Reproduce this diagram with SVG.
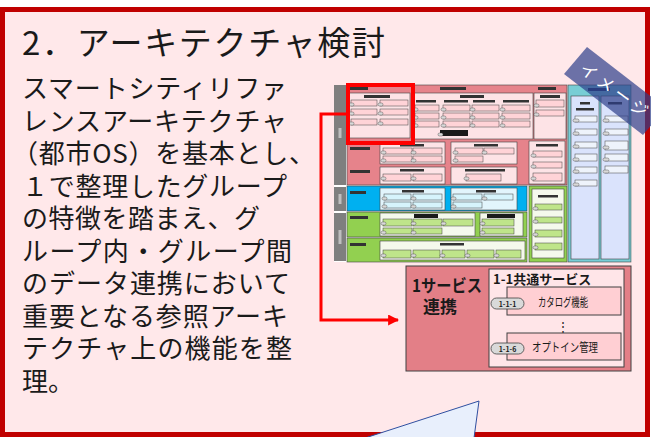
<svg xmlns="http://www.w3.org/2000/svg" width="651" height="437" viewBox="0 0 651 437">
<defs>
<style>
.cjk{font-family:"Noto Sans CJK JP","Noto Sans",sans-serif}
.body{font-size:26px;fill:#1a1a1a}
.bx{stroke:#404040;stroke-width:0.6}
.lp{fill:#fde3e6}
.it{fill:#ffd3d7;stroke:#404040;stroke-width:0.5}
.itc{fill:#d6f4fc;stroke:#404040;stroke-width:0.5}
.itg{fill:#bfe58a;stroke:#404040;stroke-width:0.5}
.itb{fill:#eef3fb;stroke:#404040;stroke-width:0.5}
.pl{fill:#d9d9d9;stroke:#404040;stroke-width:0.4}
.sm{fill:#333}
</style>
<marker id="arr" viewBox="0 0 10 10" refX="9" refY="5" markerWidth="11" markerHeight="11" markerUnits="userSpaceOnUse" orient="auto">
<path d="M0,0 L10,5 L0,10 z" fill="#ff0000"/>
</marker>
</defs>

<!-- background frame -->
<rect x="0" y="0" width="651" height="437" fill="#ffffff"/>
<rect id="frame" x="2.5" y="9.5" width="645" height="425" fill="#ffe8ea" stroke="#c00000" stroke-width="5"/>

<!-- title -->
<g id="title">
<text class="cjk" x="22" y="55" font-size="33" fill="#1a1a1a" textLength="363" lengthAdjust="spacing">2．アーキテクチャ検討</text>
</g>

<!-- body text -->
<g id="body-text" class="cjk body">
<text x="22" y="98" textLength="265" lengthAdjust="spacing">スマートシティリファ</text>
<text x="22" y="130.5" textLength="265" lengthAdjust="spacing">レンスアーキテクチャ</text>
<text x="12" y="163" textLength="303" lengthAdjust="spacing">（都市OS）を基本とし、</text>
<text x="22" y="195.5" textLength="265" lengthAdjust="spacing">１で整理したグループ</text>
<text x="22" y="228" textLength="238" lengthAdjust="spacing">の特徴を踏まえ、グ</text>
<text x="22" y="260.5" textLength="270" lengthAdjust="spacing">ループ内・グループ間</text>
<text x="22" y="293" textLength="268" lengthAdjust="spacing">のデータ連携において</text>
<text x="22" y="325.5" textLength="266" lengthAdjust="spacing">重要となる参照アーキ</text>
<text x="22" y="358" textLength="270" lengthAdjust="spacing">テクチャ上の機能を整</text>
<text x="22" y="390.5">理。</text>
</g>

<!-- architecture thumbnail -->
<g id="architecture-thumbnail">
<rect x="334" y="85" width="298" height="177" fill="#ffffff"/>
<rect x="334" y="85" width="12" height="100" fill="#7f7f7f"/>
<rect x="334" y="187" width="12" height="24" fill="#7f7f7f"/>
<rect x="334" y="213" width="12" height="48" fill="#7f7f7f"/>
<rect x="338.5" y="128" width="3" height="10" fill="#bfbfbf"/>
<rect x="338.5" y="194" width="3" height="10" fill="#bfbfbf"/>
<rect x="338.5" y="230" width="3" height="14" fill="#bfbfbf"/>

<!-- pink service section -->
<rect x="347" y="85" width="220" height="100" fill="#e6838b" class="bx"/>
<rect x="350" y="87" width="18" height="3" class="sm"/>
<rect x="440" y="87" width="26" height="3" class="sm"/>
<rect x="538" y="87" width="18" height="3" class="sm"/>
<!-- 1-1 -->
<rect x="349" y="93" width="61" height="45" class="lp bx"/>
<rect x="364" y="95" width="26" height="3" class="sm"/>
<rect x="351" y="100" width="26" height="6" class="it"/><rect x="349" y="103" width="5" height="3" rx="1.5" class="pl"/>
<rect x="380" y="100" width="28" height="6" class="it"/><rect x="378" y="103" width="5" height="3" rx="1.5" class="pl"/>
<rect x="351" y="109" width="26" height="6" class="it"/><rect x="349" y="112" width="5" height="3" rx="1.5" class="pl"/>
<rect x="380" y="109" width="28" height="6" class="it"/><rect x="378" y="112" width="5" height="3" rx="1.5" class="pl"/>
<rect x="351" y="119" width="26" height="6" class="it"/><rect x="349" y="122" width="5" height="3" rx="1.5" class="pl"/>
<rect x="380" y="119" width="28" height="6" class="it"/><rect x="378" y="122" width="5" height="3" rx="1.5" class="pl"/>
<!-- 1-2 -->
<rect x="412" y="93" width="121" height="46" class="lp bx"/>
<rect x="460" y="95" width="24" height="3" class="sm"/>
<rect x="416" y="100" width="20" height="2.5" class="sm"/>
<rect x="444" y="100" width="24" height="2.5" class="sm"/>
<rect x="473" y="100" width="22" height="2.5" class="sm"/>
<rect x="503" y="100" width="26" height="2.5" class="sm"/>
<rect x="415" y="105" width="24" height="6" class="it"/><rect x="413" y="108" width="5" height="3" rx="1.5" class="pl"/>
<rect x="443" y="105" width="27" height="6" class="it"/><rect x="441" y="108" width="5" height="3" rx="1.5" class="pl"/>
<rect x="472" y="105" width="27" height="6" class="it"/><rect x="470" y="108" width="5" height="3" rx="1.5" class="pl"/>
<rect x="502" y="105" width="28" height="6" class="it"/><rect x="500" y="108" width="5" height="3" rx="1.5" class="pl"/>
<rect x="415" y="113" width="24" height="6" class="it"/><rect x="413" y="116" width="5" height="3" rx="1.5" class="pl"/>
<rect x="443" y="113" width="27" height="6" class="it"/><rect x="441" y="116" width="5" height="3" rx="1.5" class="pl"/>
<rect x="472" y="113" width="27" height="6" class="it"/><rect x="470" y="116" width="5" height="3" rx="1.5" class="pl"/>
<rect x="502" y="113" width="28" height="6" class="it"/><rect x="500" y="116" width="5" height="3" rx="1.5" class="pl"/>
<rect x="415" y="121" width="24" height="6" class="it"/><rect x="413" y="124" width="5" height="3" rx="1.5" class="pl"/>
<rect x="443" y="121" width="27" height="6" class="it"/><rect x="441" y="124" width="5" height="3" rx="1.5" class="pl"/>
<rect x="472" y="121" width="27" height="6" class="it"/><rect x="470" y="124" width="5" height="3" rx="1.5" class="pl"/>
<rect x="502" y="121" width="28" height="6" class="it"/><rect x="500" y="124" width="5" height="3" rx="1.5" class="pl"/>
<rect x="440" y="130" width="28" height="6" fill="#1a1a1a"/><rect x="438" y="133" width="5" height="3" rx="1.5" class="pl"/>
<!-- 1-3 -->
<rect x="534" y="93" width="32" height="46" class="lp bx"/>
<rect x="540" y="95" width="20" height="3" class="sm"/>
<rect x="536" y="100" width="28" height="7" class="it"/><rect x="534" y="104" width="5" height="3" rx="1.5" class="pl"/>
<rect x="536" y="110" width="28" height="6" class="it"/><rect x="534" y="113" width="5" height="3" rx="1.5" class="pl"/>
<!-- row 2 -->
<rect x="350" y="147" width="20" height="3" class="sm"/>
<rect x="380" y="142" width="65" height="22" class="lp bx"/>
<rect x="400" y="144" width="24" height="2.5" class="sm"/>
<rect x="383" y="148" width="29" height="6" class="it"/><rect x="381" y="151" width="5" height="3" rx="1.5" class="pl"/>
<rect x="413" y="148" width="29" height="6" class="it"/><rect x="411" y="151" width="5" height="3" rx="1.5" class="pl"/>
<rect x="383" y="156" width="29" height="6" class="it"/><rect x="381" y="159" width="5" height="3" rx="1.5" class="pl"/>
<rect x="413" y="156" width="29" height="6" class="it"/><rect x="411" y="159" width="5" height="3" rx="1.5" class="pl"/>
<rect x="451" y="142" width="66" height="22" class="lp bx"/>
<rect x="474" y="144" width="24" height="2.5" class="sm"/>
<rect x="455" y="148" width="28" height="6" class="it"/><rect x="453" y="151" width="5" height="3" rx="1.5" class="pl"/>
<rect x="484" y="148" width="30" height="6" class="it"/><rect x="482" y="151" width="5" height="3" rx="1.5" class="pl"/>
<rect x="455" y="156" width="28" height="6" class="it"/><rect x="453" y="159" width="5" height="3" rx="1.5" class="pl"/>
<rect x="529" y="141" width="36" height="43" class="lp bx"/>
<rect x="536" y="144" width="22" height="2.5" class="sm"/>
<rect x="533" y="151" width="29" height="6" class="it"/><rect x="531" y="154" width="5" height="3" rx="1.5" class="pl"/>
<rect x="533" y="162" width="29" height="6" class="it"/><rect x="531" y="165" width="5" height="3" rx="1.5" class="pl"/>
<rect x="533" y="173" width="29" height="8" class="it"/><rect x="531" y="177" width="5" height="3" rx="1.5" class="pl"/>
<!-- row 3 -->
<rect x="350" y="170" width="20" height="3" class="sm"/>
<rect x="380" y="167" width="65" height="17" class="lp bx"/>
<rect x="400" y="169" width="24" height="2.5" class="sm"/>
<rect x="383" y="174" width="28" height="7" class="it"/><rect x="381" y="177" width="5" height="3" rx="1.5" class="pl"/>
<rect x="413" y="174" width="29" height="7" class="it"/><rect x="411" y="177" width="5" height="3" rx="1.5" class="pl"/>
<rect x="451" y="167" width="66" height="17" class="lp bx"/>
<rect x="465" y="169" width="40" height="2.5" class="sm"/>
<rect x="466" y="174" width="35" height="7" class="it"/><rect x="464" y="177" width="5" height="3" rx="1.5" class="pl"/>

<!-- blue row -->
<rect x="347" y="186" width="180" height="25" fill="#00b0f0" class="bx"/>
<rect x="350" y="191" width="16" height="3" class="sm"/>
<rect x="380" y="188" width="65" height="22" fill="#e2f5fc" class="bx"/>
<rect x="402" y="190" width="22" height="2.5" class="sm"/>
<rect x="384" y="194" width="27" height="6" class="itc"/><rect x="382" y="197" width="5" height="3" rx="1.5" class="pl"/>
<rect x="413" y="194" width="29" height="6" class="itc"/><rect x="411" y="197" width="5" height="3" rx="1.5" class="pl"/>
<rect x="384" y="202" width="27" height="6" class="itc"/><rect x="382" y="205" width="5" height="3" rx="1.5" class="pl"/>
<rect x="413" y="202" width="29" height="6" class="itc"/><rect x="411" y="205" width="5" height="3" rx="1.5" class="pl"/>
<rect x="451" y="188" width="66" height="22" fill="#e2f5fc" class="bx"/>
<rect x="476" y="190" width="20" height="2.5" class="sm"/>
<rect x="453" y="194" width="29" height="6" class="itc"/><rect x="451" y="197" width="5" height="3" rx="1.5" class="pl"/>
<rect x="484" y="194" width="29" height="6" class="itc"/><rect x="482" y="197" width="5" height="3" rx="1.5" class="pl"/>
<rect x="453" y="202" width="29" height="6" class="itc"/><rect x="451" y="205" width="5" height="3" rx="1.5" class="pl"/>

<!-- green rows -->
<rect x="347" y="212" width="180" height="25" fill="#92d050" class="bx"/>
<rect x="350" y="216" width="18" height="3" class="sm"/>
<rect x="380" y="213" width="95" height="23" fill="#f4f9ec" class="bx"/>
<rect x="414" y="214" width="24" height="4" fill="#1a1a1a"/>
<rect x="383" y="219" width="29" height="7" class="itg"/><rect x="381" y="222" width="5" height="3" rx="1.5" class="pl"/>
<rect x="413" y="219" width="29" height="7" class="itg"/><rect x="411" y="222" width="5" height="3" rx="1.5" class="pl"/>
<rect x="443" y="219" width="30" height="7" class="itg"/><rect x="441" y="222" width="5" height="3" rx="1.5" class="pl"/>
<rect x="383" y="228" width="29" height="6" class="itg"/><rect x="381" y="231" width="5" height="3" rx="1.5" class="pl"/>
<rect x="413" y="228" width="29" height="6" class="itg"/><rect x="411" y="231" width="5" height="3" rx="1.5" class="pl"/>
<rect x="480" y="213" width="43" height="23" fill="#f4f9ec" class="bx"/>
<rect x="487" y="214" width="28" height="4" fill="#1a1a1a"/>
<rect x="482" y="219" width="32" height="7" class="itg"/><rect x="480" y="222" width="5" height="3" rx="1.5" class="pl"/>
<rect x="482" y="228" width="32" height="6" class="itg"/><rect x="480" y="231" width="5" height="3" rx="1.5" class="pl"/>
<rect x="347" y="238" width="180" height="24" fill="#92d050" class="bx"/>
<rect x="350" y="243" width="16" height="3" class="sm"/>
<rect x="380" y="241" width="145" height="19" fill="#f5f9ec" class="bx"/>
<rect x="440" y="243" width="24" height="2.5" class="sm"/>
<rect x="383" y="250" width="28" height="8" class="itg"/><rect x="381" y="254" width="5" height="3" rx="1.5" class="pl"/>
<rect x="413" y="250" width="27" height="8" class="itg"/><rect x="411" y="254" width="5" height="3" rx="1.5" class="pl"/>
<rect x="442" y="250" width="23" height="8" class="itg"/><rect x="440" y="254" width="5" height="3" rx="1.5" class="pl"/>
<rect x="467" y="250" width="27" height="8" class="itg"/><rect x="465" y="254" width="5" height="3" rx="1.5" class="pl"/>
<rect x="496" y="250" width="25" height="8" class="itg"/><rect x="494" y="254" width="5" height="3" rx="1.5" class="pl"/>
<!-- right green column -->
<rect x="529" y="186" width="38" height="76" fill="#92d050" class="bx"/>
<rect x="532" y="189" width="32" height="69" fill="#f5f9ec" class="bx"/>
<rect x="538" y="195" width="20" height="2.5" class="sm"/>
<rect x="535" y="204" width="27" height="6" class="itg"/><rect x="533" y="207" width="5" height="3" rx="1.5" class="pl"/>
<rect x="535" y="217" width="27" height="6" class="itg"/><rect x="533" y="220" width="5" height="3" rx="1.5" class="pl"/>
<rect x="535" y="230" width="27" height="7" class="itg"/><rect x="533" y="233" width="5" height="3" rx="1.5" class="pl"/>
<rect x="535" y="243" width="27" height="7" class="itg"/><rect x="533" y="246" width="5" height="3" rx="1.5" class="pl"/>

<!-- right blue region -->
<rect x="568" y="85" width="63" height="177" fill="#78cdd5" class="bx"/>
<rect x="588" y="88" width="22" height="3" fill="#1f3a6a"/>
<rect x="571" y="96" width="28" height="163" fill="#dae3fc" class="bx"/>
<rect x="601" y="96" width="28" height="163" fill="#dae3fc" class="bx"/>
<rect x="580" y="102" width="10" height="2.5" class="sm"/>
<rect x="576" y="108" width="18" height="2.5" class="sm"/>
<rect x="608" y="102" width="14" height="2.5" class="sm"/>
<rect x="575" y="116" width="22" height="6" class="itb"/><rect x="573" y="119" width="6" height="3" rx="1.5" class="pl"/>
<rect x="575" y="129" width="22" height="6" class="itb"/><rect x="573" y="132" width="6" height="3" rx="1.5" class="pl"/>
<rect x="575" y="142" width="22" height="6" class="itb"/><rect x="573" y="145" width="6" height="3" rx="1.5" class="pl"/>
<rect x="575" y="154" width="22" height="7" class="itb"/><rect x="573" y="158" width="6" height="3" rx="1.5" class="pl"/>
<rect x="575" y="167" width="22" height="6" class="itb"/><rect x="573" y="170" width="6" height="3" rx="1.5" class="pl"/>
<rect x="575" y="180" width="22" height="6" class="itb"/><rect x="573" y="183" width="6" height="3" rx="1.5" class="pl"/>
<rect x="605" y="116" width="23" height="6" class="itb"/><rect x="603" y="119" width="6" height="3" rx="1.5" class="pl"/>
<rect x="605" y="129" width="23" height="6" class="itb"/><rect x="603" y="132" width="6" height="3" rx="1.5" class="pl"/>
<rect x="605" y="141" width="23" height="9" class="itb"/><rect x="603" y="146" width="6" height="3" rx="1.5" class="pl"/>
<rect x="605" y="154" width="23" height="7" class="itb"/><rect x="603" y="158" width="6" height="3" rx="1.5" class="pl"/>
<rect x="605" y="166" width="23" height="7" class="itb"/><rect x="603" y="170" width="6" height="3" rx="1.5" class="pl"/>
</g>

<!-- highlight box -->
<g id="highlight">
<rect x="348" y="85" width="65" height="58" fill="none" stroke="#ff0000" stroke-width="4"/>
</g>

<!-- connectors -->
<g id="connectors">
<path d="M346,114 H321 V320 H398" fill="none" stroke="#ff0000" stroke-width="3" marker-end="url(#arr)"/>
</g>

<!-- detail box -->
<g id="detail-service">
<rect x="406" y="266" width="225" height="105" fill="#e37f87" stroke="#404040" stroke-width="1"/>
<text class="cjk" x="412" y="292" font-size="17" font-weight="bold" fill="#1a1a1a" textLength="70" lengthAdjust="spacingAndGlyphs">1サービス</text>
<text class="cjk" x="423" y="313" font-size="17" font-weight="bold" fill="#1a1a1a">連携</text>
</g>
<g id="detail-common">
<rect x="489" y="269" width="135" height="98" fill="#ffe5e8" stroke="#404040" stroke-width="1"/>
<text class="cjk" x="493" y="284" font-size="13" font-weight="bold" fill="#1a1a1a">1-1共通サービス</text>
</g>
<g id="item-catalog">
<rect x="507" y="287" width="114" height="28" fill="#ffcfd3" stroke="#404040" stroke-width="1"/>
<rect x="491" y="298" width="33" height="11" rx="5.5" fill="#d9d9d9" stroke="#404040" stroke-width="0.8"/>
<text class="cjk" x="507.5" y="306.5" font-size="7" font-weight="bold" text-anchor="middle" fill="#1a1a1a">1-1-1</text>
<text class="cjk" x="563" y="307" font-size="12" text-anchor="middle" fill="#1a1a1a" textLength="50" lengthAdjust="spacingAndGlyphs">カタログ機能</text>
</g>
<g id="ellipsis">
<text class="cjk" x="563" y="331" font-size="12" text-anchor="middle" fill="#1a1a1a">⋮</text>
</g>
<g id="item-optin">
<rect x="507" y="333" width="114" height="27" fill="#ffcfd3" stroke="#404040" stroke-width="1"/>
<rect x="491" y="343" width="33" height="11" rx="5.5" fill="#d9d9d9" stroke="#404040" stroke-width="0.8"/>
<text class="cjk" x="507.5" y="351.5" font-size="7" font-weight="bold" text-anchor="middle" fill="#1a1a1a">1-1-6</text>
<text class="cjk" x="565" y="352" font-size="12" text-anchor="middle" fill="#1a1a1a" textLength="66" lengthAdjust="spacingAndGlyphs">オプトイン管理</text>
</g>

<!-- image banner -->
<g id="banner">
<polygon points="564,74 587,47 666,108 643,135" fill="#2e3f8a" fill-opacity="0.7"/>
<text class="cjk" x="0" y="0" font-size="17" fill="#ffffff" text-anchor="middle" letter-spacing="4" transform="translate(612,96) rotate(36)">イメージ</text>
</g>

<!-- callout -->
<g id="callout">
<polygon points="479,401 365,438 474,438" fill="#e8effc" stroke="#2f4fa0" stroke-width="1"/>
</g>
</svg>
